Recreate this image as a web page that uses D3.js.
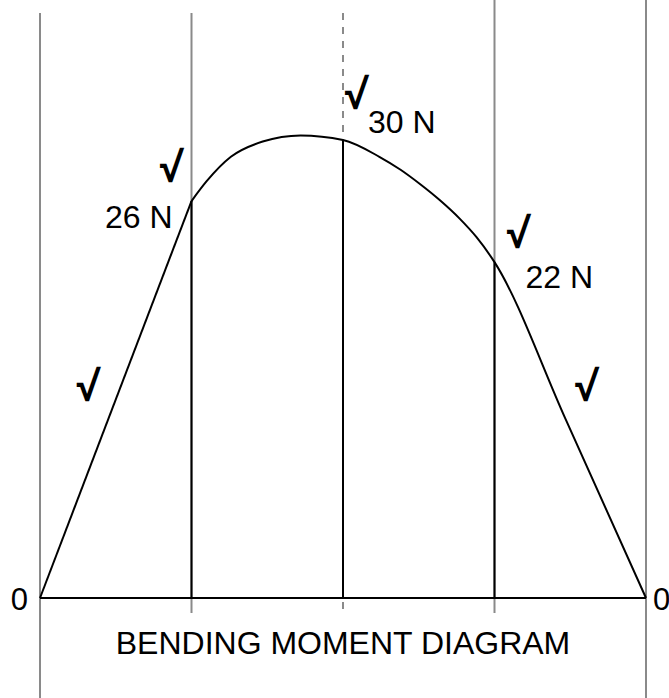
<!DOCTYPE html>
<html>
<head>
<meta charset="utf-8">
<title>Bending moment diagram</title>
<script src="https://cdn.jsdelivr.net/npm/d3@7"></script>
<style>
  body { margin: 0; background: #fff; }
  svg text { font-family: "Liberation Sans", Arial, sans-serif; fill: #000; }
  svg text.chk { font-family: "Open Sans", sans-serif; font-weight: bold; }
</style>
</head>
<body>
<div id="chart"></div>
<script>
// beam stations (load / support points)
var stations = [0, 1, 2, 3, 4];
// bending moment curve
var momentX = [0, 1, 1.1, 1.26, 1.47, 1.72, 2, 2.24, 2.38, 2.51, 2.64, 2.77, 2.88, 3, 3.47, 4];
var momentY = [0, 26, 27.3, 28.9, 29.9, 30.3, 30, 28.9, 28.05, 27.1, 26.05, 24.85, 23.65, 22, 11.7, 0];
// value labels at the inner stations
var labelX = [1, 2, 3];
var labelText = ["26 N", "30 N", "22 N"];
var endText = ["0", "0"];
// check marks
var checkX = [0.31, 0.86, 2.08, 3.15, 3.6];
var checkY = [13.9, 28.2, 33.0, 23.9, 13.9];
var title = "BENDING MOMENT DIAGRAM";

var width = 669, height = 698;
var svg = d3.select("#chart").append("svg")
  .attr("width", width).attr("height", height);

var x = d3.scaleLinear().domain([0, 4]).range([40, 646]);
var y = d3.scaleLinear().domain([0, 30]).range([598, 140]);

var grey = "#8a8a8a";
var pts = momentX.map(function(d, i){ return [d, momentY[i]]; });
function yAt(s){ return momentY[momentX.indexOf(s)]; }

// grey construction lines
var guides = [
  {s: 0, y1: 13, y2: 698},
  {s: 1, y1: 13, y2: 613},
  {s: 3, y1: 0, y2: 613},
  {s: 4, y1: 0, y2: 698}
];
svg.selectAll(".guide").data(guides).enter().append("line")
  .attr("class", "guide")
  .attr("x1", function(d){ return x(d.s); })
  .attr("x2", function(d){ return x(d.s); })
  .attr("y1", function(d){ return d.y1; })
  .attr("y2", function(d){ return d.y2; })
  .style("stroke", grey).style("stroke-width", 2);

// dashed centre line
svg.append("line")
  .attr("x1", x(2)).attr("x2", x(2))
  .attr("y1", 13).attr("y2", y(yAt(2)))
  .style("stroke", grey).style("stroke-width", 2)
  .style("stroke-dasharray", "7,7");
svg.append("line")
  .attr("x1", x(2)).attr("x2", x(2))
  .attr("y1", 602).attr("y2", 609)
  .style("stroke", grey).style("stroke-width", 2);

// black ordinates
svg.selectAll(".ord").data(labelX).enter().append("line")
  .attr("class", "ord")
  .attr("x1", function(d){ return x(d); })
  .attr("x2", function(d){ return x(d); })
  .attr("y1", function(d){ return y(yAt(d)); })
  .attr("y2", y(0))
  .style("stroke", "#000").style("stroke-width", 2);

// baseline
svg.append("line")
  .attr("x1", x(0)).attr("x2", x(4))
  .attr("y1", y(0)).attr("y2", y(0))
  .style("stroke", "#000").style("stroke-width", 2);

// curve: straight left span (kink at station 1), smooth afterwards
var lineStraight = d3.line().x(function(d){ return x(d[0]); }).y(function(d){ return y(d[1]); });
var lineSmooth = d3.line().x(function(d){ return x(d[0]); }).y(function(d){ return y(d[1]); })
  .curve(d3.curveMonotoneX);
svg.append("path").attr("d", lineStraight(pts.slice(0, 2)))
  .style("fill", "none").style("stroke", "#000").style("stroke-width", 2);
svg.append("path").attr("d", lineSmooth(pts.slice(1)))
  .style("fill", "none").style("stroke", "#000").style("stroke-width", 2);

// value labels
var labelDx = [-19, 25, 31];
var labelDy = [27, -7, 26];
var labelAnchor = ["end", "start", "start"];
svg.selectAll(".val").data(labelX).enter().append("text")
  .attr("class", "val")
  .attr("x", function(d, i){ return x(d) + labelDx[i]; })
  .attr("y", function(d, i){ return y(yAt(d)) + labelDy[i]; })
  .attr("text-anchor", function(d, i){ return labelAnchor[i]; })
  .style("font-size", "32px")
  .text(function(d, i){ return labelText[i]; });

// end zeros
svg.append("text").attr("x", x(0) - 12).attr("y", y(0) + 12)
  .attr("text-anchor", "end").style("font-size", "31px").text(endText[0]);
svg.append("text").attr("x", x(4) + 7).attr("y", y(0) + 12)
  .attr("text-anchor", "start").style("font-size", "31px").text(endText[1]);

// check marks
svg.selectAll(".chk").data(checkX).enter().append("text")
  .attr("class", "chk")
  .attr("x", function(d){ return x(d); })
  .attr("y", function(d, i){ return y(checkY[i]) + 15; })
  .attr("text-anchor", "middle")
  .style("font-size", "40px")
  .text("\u221A");

// title
svg.append("text").attr("x", x(2)).attr("y", 654)
  .attr("text-anchor", "middle").style("font-size", "32px")
  .text(title);
</script>
</body>
</html>
